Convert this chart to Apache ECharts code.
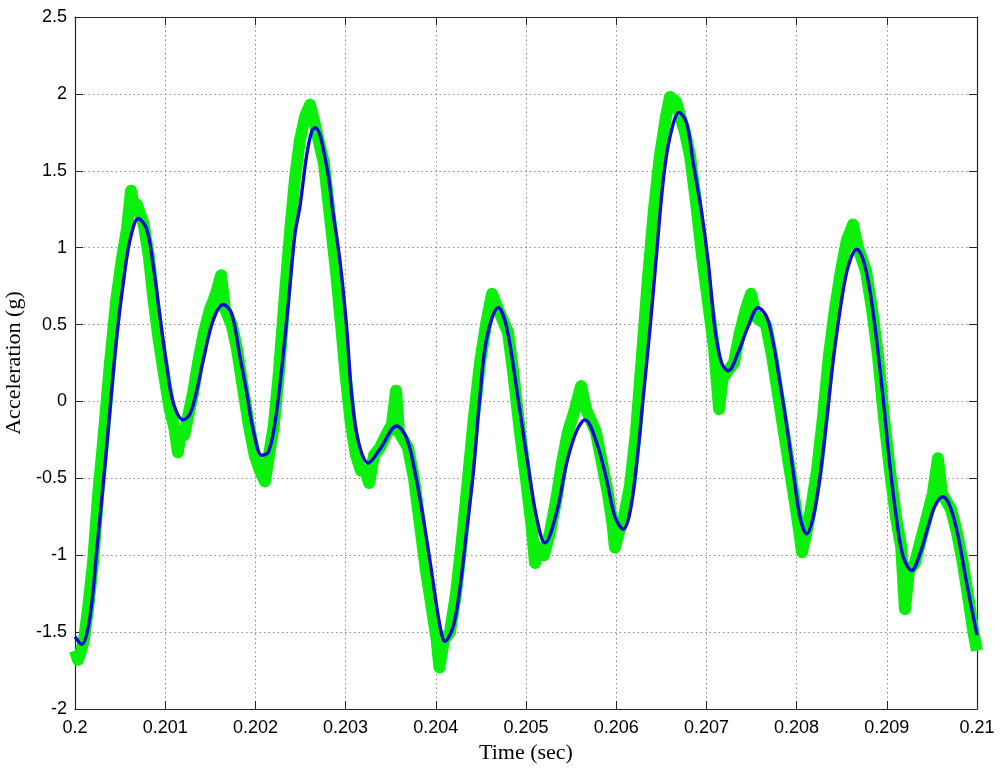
<!DOCTYPE html>
<html>
<head>
<meta charset="utf-8">
<script src="https://cdn.jsdelivr.net/npm/echarts@6/dist/echarts.min.js"></script>
<style>
html,body{margin:0;padding:0;background:#fff;}
#chart{width:1000px;height:769px;}
</style>
</head>
<body>
<div id="chart"></div>
<script>
// Axis ticks
const xTicks = [0.2, 0.201, 0.202, 0.203, 0.204, 0.205, 0.206, 0.207, 0.208, 0.209, 0.21];
const yTicks = [-2, -1.5, -1, -0.5, 0, 0.5, 1, 1.5, 2, 2.5];

// Filtered signal (blue): time offsets in microseconds after 0.2 s, and values (g)
const blueTimeUs = [0, 74, 166, 241, 314, 388, 462, 535, 610, 702, 795, 868, 942, 1017, 1090, 1201, 1275, 1349, 1422, 1533, 1644, 1737, 1829, 1903, 1977, 2070, 2143, 2217, 2291, 2365, 2439, 2494, 2568, 2627, 2666, 2790, 2860, 2938, 3012, 3067, 3141, 3252, 3381, 3566, 3677, 3769, 3861, 3954, 4046, 4102, 4194, 4268, 4342, 4416, 4490, 4564, 4693, 4786, 4897, 5008, 5119, 5210, 5340, 5451, 5562, 5654, 5784, 5894, 5986, 6078, 6153, 6227, 6300, 6374, 6449, 6522, 6596, 6699, 6781, 6854, 6947, 7021, 7095, 7169, 7242, 7353, 7464, 7575, 7668, 7741, 7816, 7890, 7963, 8037, 8112, 8185, 8259, 8333, 8406, 8499, 8573, 8666, 8739, 8813, 8887, 8961, 9035, 9109, 9182, 9276, 9368, 9460, 9534, 9620, 9700, 9792, 9885, 10000];
const blueValues = [-1.53, -1.58, -1.40, -0.97, -0.53, -0.05, 0.42, 0.77, 1.05, 1.19, 1.12, 0.88, 0.55, 0.23, -0.01, -0.12, -0.08, 0.07, 0.27, 0.53, 0.63, 0.57, 0.29, 0.06, -0.19, -0.35, -0.33, -0.14, 0.21, 0.64, 1.09, 1.27, 1.60, 1.76, 1.78, 1.53, 1.23, 0.91, 0.48, 0.04, -0.26, -0.40, -0.31, -0.16, -0.24, -0.46, -0.76, -1.11, -1.46, -1.56, -1.46, -1.21, -0.84, -0.46, 0.04, 0.41, 0.61, 0.48, 0.08, -0.36, -0.76, -0.92, -0.72, -0.40, -0.19, -0.12, -0.27, -0.51, -0.75, -0.83, -0.72, -0.40, 0.03, 0.47, 0.97, 1.44, 1.72, 1.88, 1.81, 1.55, 1.23, 0.90, 0.47, 0.25, 0.20, 0.32, 0.49, 0.61, 0.55, 0.38, 0.12, -0.16, -0.46, -0.75, -0.86, -0.75, -0.49, -0.12, 0.27, 0.66, 0.88, 0.99, 0.92, 0.72, 0.40, 0.01, -0.42, -0.77, -1.01, -1.10, -0.99, -0.81, -0.68, -0.62, -0.68, -0.88, -1.18, -1.52];

// Raw noisy signal (green): time offsets in microseconds after 0.2 s, and values (g)
const greenTimeUs = [0, 33, 67, 100, 144, 200, 255, 321, 388, 455, 521, 576, 621, 654, 687,
  762, 817, 873, 928, 994, 1050, 1105, 1140, 1175, 1210, 1253,
  1308, 1364, 1430, 1497, 1563, 1619, 1663,
  1737, 1793, 1859, 1926, 1992, 2050, 2106, 2151,
  2206, 2262, 2328, 2384, 2439, 2494, 2550, 2605, 2660,
  2760, 2827, 2893, 2949, 3004, 3059, 3115, 3170, 3220, 3260, 3315, 3381, 3448, 3514, 3559, 3592,
  3691, 3758, 3824, 3891, 3957, 4010, 4040, 4091, 4157,
  4224, 4290, 4357, 4423, 4490, 4556, 4623, 4689,
  4800, 4866, 4933, 4999, 5060, 5100, 5140, 5199, 5266,
  5332, 5399, 5465, 5543, 5610, 5665,
  5775, 5842, 5908, 5960, 5985, 6030, 6086,
  6153, 6219, 6286, 6352, 6419, 6485, 6552, 6596, 6663,
  6762, 6818, 6884, 6951, 7017, 7084, 7120, 7140, 7180, 7238,
  7305, 7372, 7438, 7494, 7549,
  7660, 7727, 7793, 7860, 7926, 7980, 8030, 8060, 8110,
  8159, 8226, 8293, 8359, 8425, 8492, 8558, 8625, 8680,
  8769, 8836, 8902, 8968, 9035, 9101, 9160, 9201, 9246, 9312,
  9378, 9445, 9511, 9567, 9611,
  9711, 9777, 9843, 9910, 9960, 10000];
const greenValues = [-1.62, -1.68, -1.62, -1.55, -1.35, -1.05, -0.62, -0.2, 0.25, 0.65, 0.93, 1.12, 1.37, 1.25, 1.28,
  1.15, 0.95, 0.65, 0.4, 0.15, -0.05, -0.18, -0.33, -0.2, -0.22, -0.1,
  0.05, 0.25, 0.45, 0.6, 0.7, 0.82, 0.6,
  0.5, 0.35, 0.1, -0.15, -0.35, -0.45, -0.52, -0.35,
  -0.15, 0.2, 0.7, 1.1, 1.45, 1.7, 1.85, 1.93, 1.8,
  1.55, 1.2, 0.85, 0.5, 0.15, -0.15, -0.35, -0.45, -0.45, -0.53, -0.35, -0.3, -0.22, -0.15, 0.07, -0.2,
  -0.3, -0.5, -0.8, -1.1, -1.35, -1.55, -1.73, -1.55, -1.5,
  -1.25, -0.9, -0.5, -0.1, 0.25, 0.5, 0.7, 0.6,
  0.45, 0.15, -0.2, -0.5, -0.8, -1.05, -0.95, -1.0, -0.85,
  -0.65, -0.4, -0.2, -0.05, 0.1, -0.05,
  -0.2, -0.4, -0.6, -0.8, -0.95, -0.85, -0.75,
  -0.55, -0.2, 0.3, 0.8, 1.25, 1.6, 1.85, 1.98, 1.95,
  1.75, 1.6, 1.3, 0.95, 0.65, 0.35, 0.1, -0.05, 0.15, 0.2,
  0.25, 0.45, 0.6, 0.7, 0.55,
  0.5, 0.3, 0.05, -0.2, -0.45, -0.65, -0.85, -0.98, -0.85,
  -0.7, -0.45, -0.1, 0.3, 0.6, 0.85, 1.05, 1.15, 1.0,
  0.85, 0.6, 0.3, -0.1, -0.45, -0.75, -0.95, -1.35, -1.1, -1.05,
  -0.9, -0.75, -0.6, -0.37, -0.6,
  -0.7, -0.85, -1.05, -1.3, -1.5, -1.62];

const t0 = 0.2;
const toPairs = (us, vals) => us.map((u, i) => [t0 + u * 1e-6, vals[i]]);

const axisColor = '#262626';
const gridColor = '#8c8c8c';
const labelFont = { fontFamily: 'Liberation Sans, Arial, sans-serif', fontSize: 18, color: '#000' };

const chart = echarts.init(document.getElementById('chart'), null, { renderer: 'canvas' });
chart.setOption({
  animation: false,
  backgroundColor: '#fff',
  grid: { left: 75, right: 23, top: 17, bottom: 60, containLabel: false, outerBoundsMode: 'none' },
  xAxis: [
    {
      type: 'value', position: 'bottom', min: 0.2, max: 0.21, interval: 0.001,
      name: 'Time (sec)', nameLocation: 'middle', nameGap: 32,
      nameTextStyle: { fontFamily: 'Liberation Serif, Times New Roman, serif', fontSize: 22, color: '#000' },
      axisLine: { onZero: false, lineStyle: { color: axisColor, width: 1.2 } },
      axisTick: { inside: true, length: 8, lineStyle: { color: axisColor } },
      axisLabel: Object.assign({ margin: 10, formatter: v => String(+v.toFixed(3)) }, labelFont),
      splitLine: { show: true, lineStyle: { color: gridColor, type: [1.5, 3], width: 1 } }
    },
    {
      type: 'value', position: 'top', min: 0.2, max: 0.21, interval: 0.001,
      axisLine: { onZero: false, lineStyle: { color: axisColor, width: 1.2 } },
      axisTick: { inside: true, length: 8, lineStyle: { color: axisColor } },
      axisLabel: { show: false }, splitLine: { show: false }
    }
  ],
  yAxis: [
    {
      type: 'value', position: 'left', min: -2, max: 2.5, interval: 0.5,
      name: 'Acceleration (g)', nameLocation: 'middle', nameGap: 49, nameRotate: 90,
      nameTextStyle: { fontFamily: 'Liberation Serif, Times New Roman, serif', fontSize: 22, color: '#000' },
      axisLine: { show: true, onZero: false, lineStyle: { color: axisColor, width: 1.2 } },
      axisTick: { show: true, inside: true, length: 8, lineStyle: { color: axisColor } },
      axisLabel: Object.assign({ margin: 8 }, labelFont),
      splitLine: { show: true, lineStyle: { color: gridColor, type: [1.5, 3], width: 1 } }
    },
    {
      type: 'value', position: 'right', min: -2, max: 2.5, interval: 0.5,
      axisLine: { show: true, onZero: false, lineStyle: { color: axisColor, width: 1.2 } },
      axisTick: { show: true, inside: true, length: 8, lineStyle: { color: axisColor } },
      axisLabel: { show: false }, splitLine: { show: false }
    }
  ],
  series: [
    {
      name: 'Raw', type: 'line', xAxisIndex: 0, yAxisIndex: 0,
      data: toPairs(greenTimeUs, greenValues),
      showSymbol: false, smooth: false,
      lineStyle: { color: '#0af00a', width: 12, join: 'round', cap: 'butt' },
      z: 2
    },
    {
      name: 'Filtered', type: 'line', xAxisIndex: 0, yAxisIndex: 0,
      data: toPairs(blueTimeUs, blueValues),
      showSymbol: false, smooth: 0.35,
      lineStyle: { color: '#0a0ad2', width: 3.4 },
      z: 3
    }
  ]
});
</script>
</body>
</html>
